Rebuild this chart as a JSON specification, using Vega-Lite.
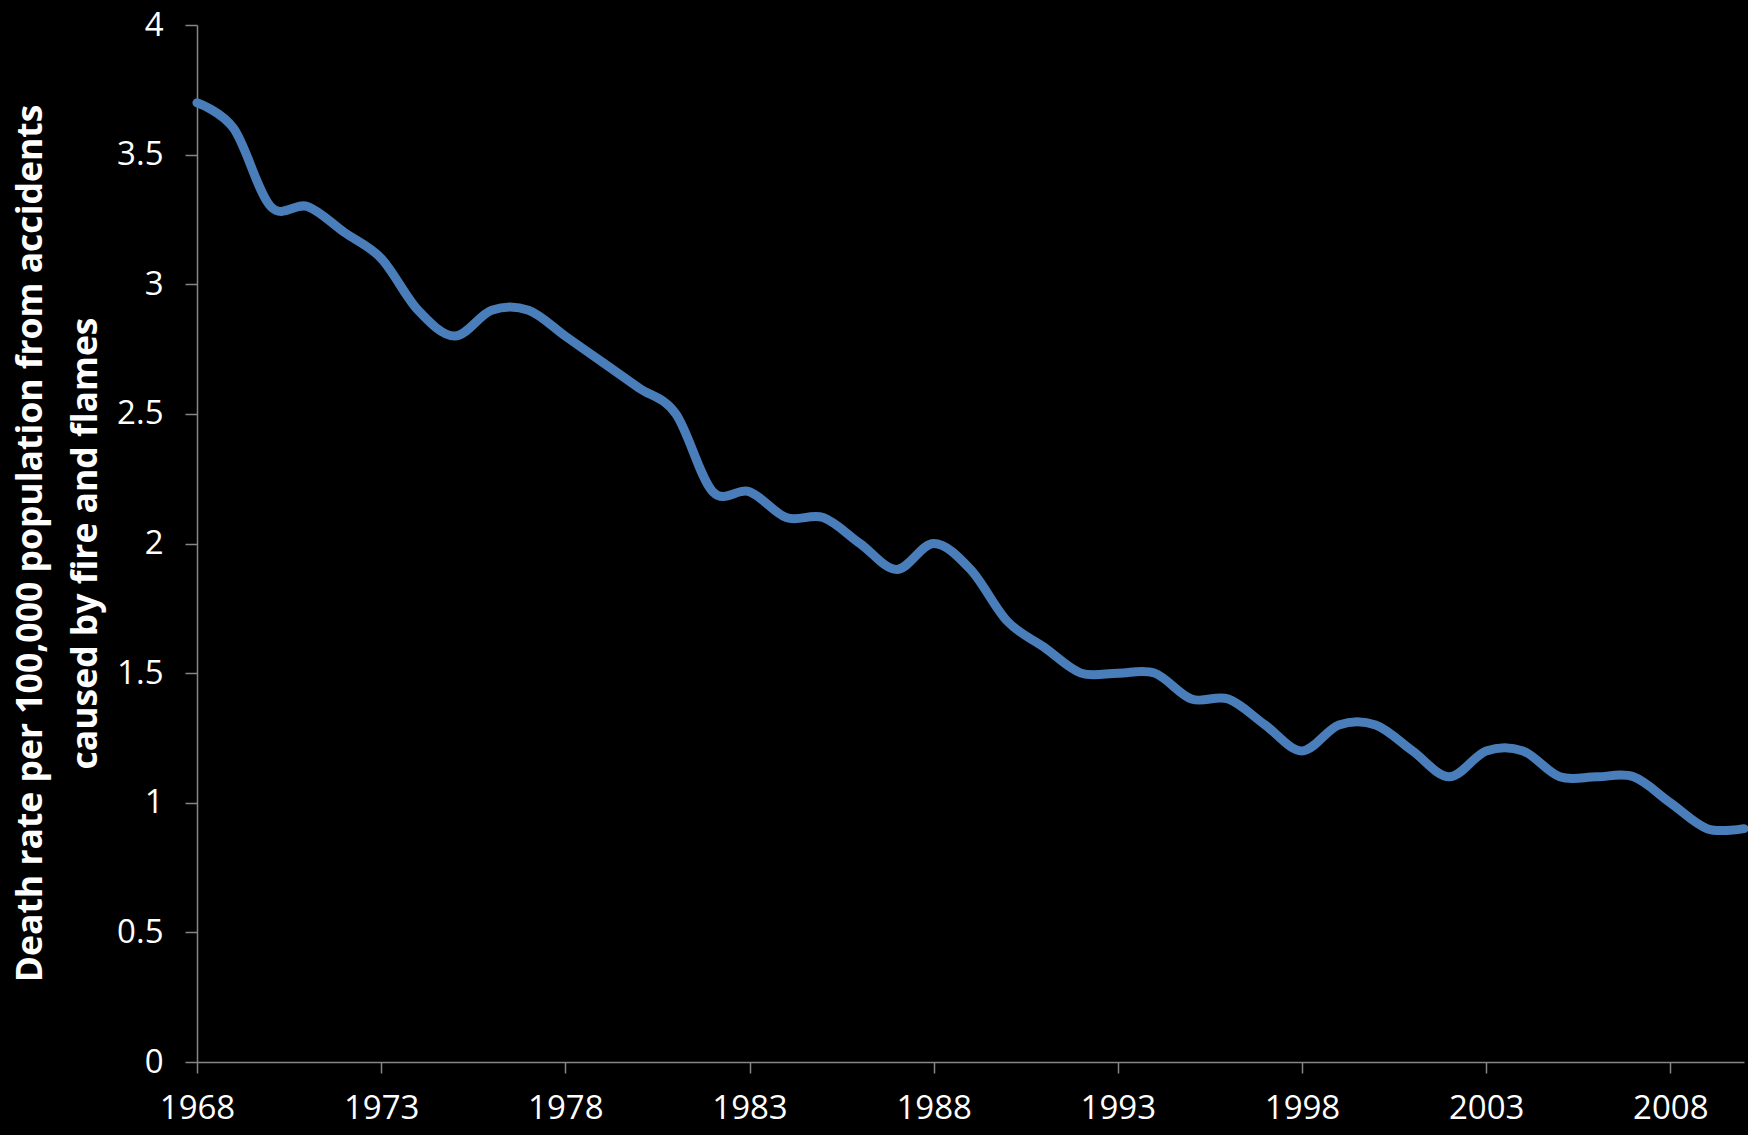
{
  "$schema": "https://vega.github.io/schema/vega-lite/v6.json",
  "width": 1547,
  "height": 1037,
  "autosize": {"type": "none"},
  "padding": {"left": 197, "top": 25, "right": 4, "bottom": 73},
  "background": "#000000",
  "config": {
    "view": {"stroke": null},
    "font": "Open Sans"
  },
  "data": {
    "values": [
      {"year": 1968, "rate": 3.7},
      {"year": 1969, "rate": 3.6},
      {"year": 1970, "rate": 3.3},
      {"year": 1971, "rate": 3.3},
      {"year": 1972, "rate": 3.2},
      {"year": 1973, "rate": 3.1},
      {"year": 1974, "rate": 2.9},
      {"year": 1975, "rate": 2.8},
      {"year": 1976, "rate": 2.9},
      {"year": 1977, "rate": 2.9},
      {"year": 1978, "rate": 2.8},
      {"year": 1979, "rate": 2.7},
      {"year": 1980, "rate": 2.6},
      {"year": 1981, "rate": 2.5},
      {"year": 1982, "rate": 2.2},
      {"year": 1983, "rate": 2.2},
      {"year": 1984, "rate": 2.1},
      {"year": 1985, "rate": 2.1},
      {"year": 1986, "rate": 2.0},
      {"year": 1987, "rate": 1.9},
      {"year": 1988, "rate": 2.0},
      {"year": 1989, "rate": 1.9},
      {"year": 1990, "rate": 1.7},
      {"year": 1991, "rate": 1.6},
      {"year": 1992, "rate": 1.5},
      {"year": 1993, "rate": 1.5},
      {"year": 1994, "rate": 1.5},
      {"year": 1995, "rate": 1.4},
      {"year": 1996, "rate": 1.4},
      {"year": 1997, "rate": 1.3},
      {"year": 1998, "rate": 1.2},
      {"year": 1999, "rate": 1.3},
      {"year": 2000, "rate": 1.3},
      {"year": 2001, "rate": 1.2},
      {"year": 2002, "rate": 1.1},
      {"year": 2003, "rate": 1.2},
      {"year": 2004, "rate": 1.2},
      {"year": 2005, "rate": 1.1},
      {"year": 2006, "rate": 1.1},
      {"year": 2007, "rate": 1.1},
      {"year": 2008, "rate": 1.0},
      {"year": 2009, "rate": 0.9},
      {"year": 2010, "rate": 0.9}
    ]
  },
  "mark": {
    "type": "line",
    "interpolate": "cardinal",
    "color": "#4A7EBB",
    "strokeWidth": 9,
    "strokeCap": "round",
    "strokeJoin": "round"
  },
  "encoding": {
    "x": {
      "field": "year",
      "type": "quantitative",
      "scale": {"domain": [1968, 2010], "nice": false, "zero": false},
      "axis": {
        "title": null,
        "values": [1968, 1973, 1978, 1983, 1988, 1993, 1998, 2003, 2008],
        "format": "d",
        "grid": false,
        "domainColor": "#868686",
        "domainWidth": 1.5,
        "tickColor": "#868686",
        "tickWidth": 1.5,
        "tickSize": 11,
        "labelColor": "#FFFFFF",
        "labelFont": "Open Sans",
        "labelFontSize": 33,
        "labelPadding": 19,
        "labelFlush": false,
        "labelOverlap": false
      }
    },
    "y": {
      "field": "rate",
      "type": "quantitative",
      "scale": {"domain": [0, 4], "nice": false},
      "axis": {
        "title": ["Death rate per 100,000 population from accidents", "caused by fire and flames"],
        "values": [0, 0.5, 1, 1.5, 2, 2.5, 3, 3.5, 4],
        "format": "~g",
        "grid": false,
        "domainColor": "#868686",
        "domainWidth": 1.5,
        "tickColor": "#868686",
        "tickWidth": 1.5,
        "tickSize": 12,
        "labelColor": "#FFFFFF",
        "labelFont": "Open Sans",
        "labelFontSize": 33,
        "labelPadding": 22,
        "labelFlush": false,
        "labelOverlap": false,
        "titleColor": "#FFFFFF",
        "titleFont": "Open Sans",
        "titleFontWeight": "bold",
        "titleFontSize": 35.5,
        "titleLineHeight": 55,
        "titleAngle": -90,
        "titleAlign": "center",
        "titleBaseline": "middle",
        "titleX": -167,
        "titleY": 518
      }
    }
  }
}
